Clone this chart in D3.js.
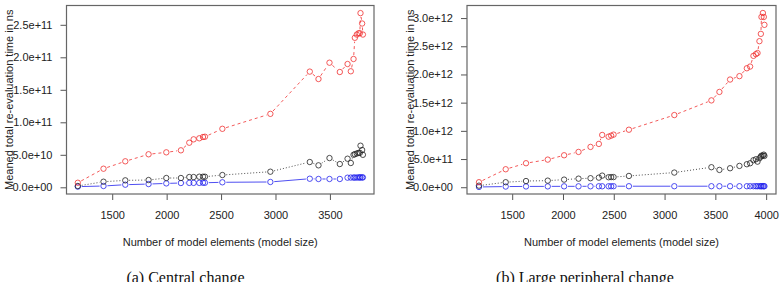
<!DOCTYPE html>
<html>
<head>
<meta charset="utf-8">
<script src="https://cdn.jsdelivr.net/npm/d3@7"></script>
<style>
  body { margin: 0; background: #fff; }
  svg { display: block; }
  .axis text { font-family: "Liberation Sans", Arial, sans-serif; font-size: 11px; fill: #222; }
  .axis line { stroke: #555; }
  .title { font-family: "Liberation Sans", Arial, sans-serif; font-size: 11px; fill: #222; }
  .caption { font-family: "Liberation Serif", "Times New Roman", serif; font-size: 16px; fill: #111; }
</style>
</head>
<body>
<svg id="chart" width="783" height="282"></svg>
<script>
"use strict";

// Panel (a): central change
const sizesA = [1184, 1420, 1620, 1834, 1997, 2131, 2208, 2248, 2300, 2334,
  2352, 2512, 2953, 3315, 3395, 3496, 3591, 3662, 3692, 3717,
  3729, 3747, 3763, 3775, 3781, 3796, 3803];
const redA = [0.7, 2.86, 4.0, 5.08, 5.38, 5.69, 6.86, 7.38, 7.54, 7.74,
  7.78, 9.0, 11.3, 17.8, 16.66, 19.17, 17.74, 18.97, 17.85, 19.74,
  23.0, 23.5, 23.7, 23.7, 26.8, 25.2, 23.5].map(v => v * 1e10);
const blackA = [0.2, 0.86, 1.07, 1.12, 1.43, 1.43, 1.58, 1.58, 1.63, 1.63,
  1.63, 1.89, 2.4, 3.89, 3.38, 4.5, 3.58, 4.4, 3.74, 5.0,
  5.1, 5.2, 5.3, 5.3, 6.4, 5.74, 5.0].map(v => v * 1e10);
const blueA = [0.1, 0.2, 0.4, 0.5, 0.6, 0.66, 0.68, 0.68, 0.68, 0.7,
  0.7, 0.77, 0.82, 1.32, 1.28, 1.28, 1.28, 1.48, 1.5, 1.5,
  1.5, 1.5, 1.52, 1.52, 1.52, 1.52, 1.52].map(v => v * 1e10);
const xTicksA = [1500, 2000, 2500, 3000, 3500];
const yTicksA = [0, 5e10, 1e11, 1.5e11, 2e11, 2.5e11];

// Panel (b): large peripheral change
const sizesB = [1173, 1436, 1636, 1850, 2011, 2153, 2271, 2353, 2386, 2449,
  2474, 2498, 2649, 3096, 3461, 3540, 3645, 3737, 3810, 3842,
  3875, 3899, 3915, 3934, 3948, 3954, 3968, 3977, 3983];
const redB = [0.089, 0.319, 0.426, 0.49, 0.567, 0.626, 0.715, 0.768, 0.927, 0.897,
  0.915, 0.933, 1.02, 1.28, 1.54, 1.69, 1.91, 1.97, 2.11, 2.14,
  2.33, 2.36, 2.38, 2.59, 2.72, 3.02, 3.09, 3.02, 2.88].map(v => v * 1e12);
const blackB = [0.028, 0.089, 0.11, 0.117, 0.135, 0.152, 0.16, 0.17, 0.206, 0.177,
  0.18, 0.18, 0.2, 0.26, 0.355, 0.307, 0.337, 0.378, 0.408, 0.425,
  0.479, 0.496, 0.454, 0.514, 0.543, 0.56, 0.56, 0.578, 0.555].map(v => v * 1e12);
const blueB = [0.005, 0.012, 0.014, 0.015, 0.016, 0.016, 0.017, 0.017, 0.017, 0.017,
  0.018, 0.018, 0.018, 0.018, 0.018, 0.018, 0.018, 0.018, 0.018, 0.018,
  0.018, 0.018, 0.018, 0.018, 0.018, 0.018, 0.018, 0.018, 0.018].map(v => v * 1e12);
const xTicksB = [1500, 2000, 2500, 3000, 3500, 4000];
const yTicksB = [0, 5e11, 1e12, 1.5e12, 2e12, 2.5e12, 3e12];

const yTitle = "Meaned total re-evaluation time in ns";
const xTitle = "Number of model elements (model size)";

const svg = d3.select("#chart");

// R style sci format: 5.0e+10, 0.0e+00
function sci(v) {
  return v.toExponential(1).replace(/e([+-])(\d)$/, "e$10$2");
}

function panel(opt) {
  const g = svg.append("g");
  const x = d3.scaleLinear().domain(opt.xDomain).range([opt.left, opt.right]);
  const y = d3.scaleLinear().domain(opt.yDomain).range([opt.bottom, opt.top]);

  g.append("g")
    .attr("class", "axis")
    .attr("transform", "translate(" + opt.left + ",0)")
    .call(d3.axisLeft(y).tickValues(opt.yTicks).tickFormat(sci).tickSize(6).tickPadding(8))
    .call(a => a.select(".domain").remove());

  g.append("g")
    .attr("class", "axis")
    .attr("transform", "translate(0," + opt.bottom + ")")
    .call(d3.axisBottom(x).tickValues(opt.xTicks).tickFormat(d3.format("d")).tickSize(6).tickPadding(11))
    .call(a => a.select(".domain").remove());

  g.append("rect")
    .attr("x", opt.left)
    .attr("y", opt.top)
    .attr("width", opt.right - opt.left)
    .attr("height", opt.bottom - opt.top)
    .attr("fill", "none")
    .attr("stroke", "#666")
    .attr("stroke-width", 1.2);

  const r = 2.7;
  opt.series.forEach(function(s) {
    const pts = opt.sizes.map((d, i) => [x(d), y(s.values[i])]);
    // type = "b": segments with a gap around each point
    const segs = [];
    for (let i = 1; i < pts.length; i++) {
      const [x0, y0] = pts[i - 1], [x1, y1] = pts[i];
      const len = Math.hypot(x1 - x0, y1 - y0), gap = r + 1.2;
      if (len <= 2 * gap) continue;
      const ux = (x1 - x0) / len, uy = (y1 - y0) / len;
      segs.push([x0 + ux * gap, y0 + uy * gap, x1 - ux * gap, y1 - uy * gap]);
    }
    g.append("g")
      .selectAll("line")
      .data(segs)
      .enter()
      .append("line")
      .attr("x1", d => d[0]).attr("y1", d => d[1])
      .attr("x2", d => d[2]).attr("y2", d => d[3])
      .attr("stroke", s.color)
      .attr("stroke-width", 0.8)
      .attr("stroke-dasharray", s.dash);

    g.append("g")
      .selectAll("circle")
      .data(pts)
      .enter()
      .append("circle")
      .attr("cx", d => d[0])
      .attr("cy", d => d[1])
      .attr("r", r)
      .attr("fill", "none")
      .attr("stroke", s.color)
      .attr("stroke-width", 0.8);
  });

  g.append("text")
    .attr("class", "title")
    .attr("transform", "translate(" + opt.yTitleX + "," + ((opt.top + opt.bottom) / 2) + ") rotate(-90)")
    .attr("text-anchor", "middle")
    .text(yTitle);

  g.append("text")
    .attr("class", "title")
    .attr("x", (opt.left + opt.right) / 2)
    .attr("y", 246)
    .attr("text-anchor", "middle")
    .text(xTitle);

  g.append("text")
    .attr("class", "caption")
    .attr("x", opt.captionX)
    .attr("y", 283)
    .attr("text-anchor", "middle")
    .text(opt.caption);
}

panel({
  left: 66.5, right: 374, top: 5.5, bottom: 194,
  xDomain: [1080, 3905], yDomain: [-1.03e10, 2.797e11],
  xTicks: xTicksA, yTicks: yTicksA,
  sizes: sizesA,
  series: [
    { values: blueA, color: "#2222ee", dash: null },
    { values: blackA, color: "#222", dash: "1,2" },
    { values: redA, color: "#f03030", dash: "3,3" }
  ],
  yTitleX: 13, captionX: 185.5, caption: "(a) Central change"
});

panel({
  left: 467, right: 776, top: 5.5, bottom: 194,
  xDomain: [1055, 4097], yDomain: [-0.12e12, 3.223e12],
  xTicks: xTicksB, yTicks: yTicksB,
  sizes: sizesB,
  series: [
    { values: blueB, color: "#2222ee", dash: null },
    { values: blackB, color: "#222", dash: "1,2" },
    { values: redB, color: "#f03030", dash: "3,3" }
  ],
  yTitleX: 414, captionX: 585, caption: "(b) Large peripheral change"
});
</script>
</body>
</html>
